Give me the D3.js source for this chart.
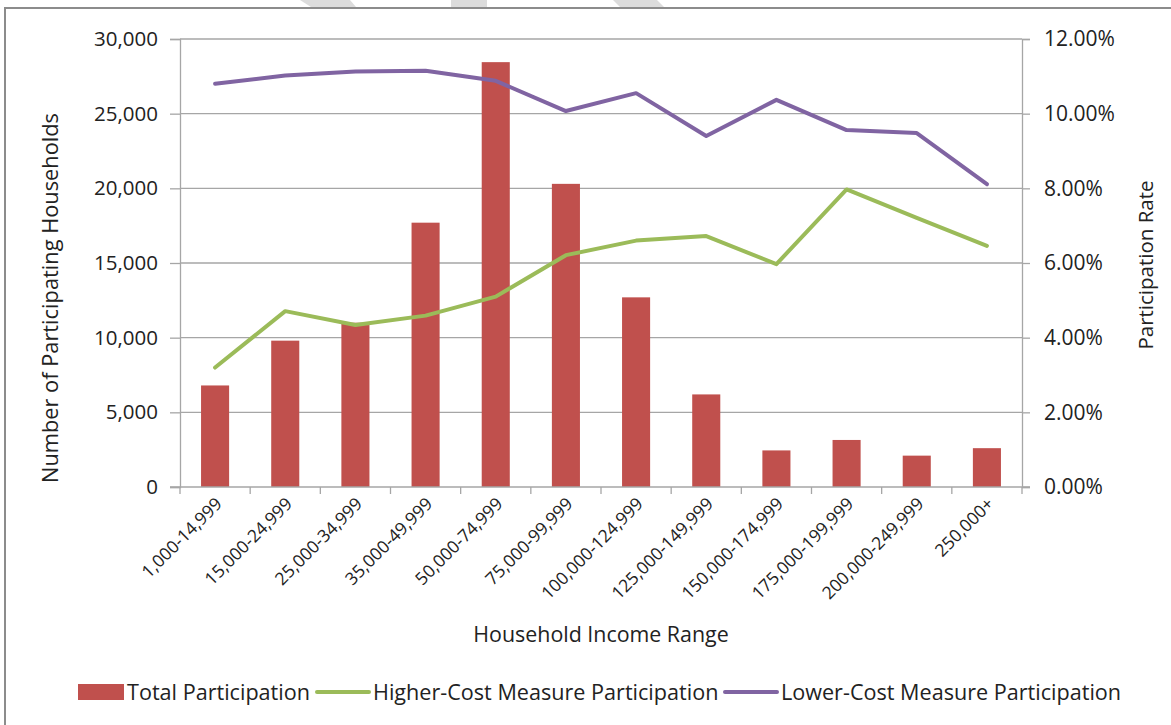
<!DOCTYPE html>
<html>
<head>
<meta charset="utf-8">
<script src="https://cdn.jsdelivr.net/npm/d3@7"></script>
<style>
  body { margin: 0; background: #fff; }
  text { font-family: "Open Sans", sans-serif; fill: #222; }
</style>
</head>
<body>
<script>
const categories = ["1,000-14,999", "15,000-24,999", "25,000-34,999", "35,000-49,999",
  "50,000-74,999", "75,000-99,999", "100,000-124,999", "125,000-149,999",
  "150,000-174,999", "175,000-199,999", "200,000-249,999", "250,000+"];
const totalParticipation = [6800, 9800, 11000, 17700, 28450, 20300, 12700, 6200, 2450, 3150, 2100, 2600];
const higherCost = [0.0320, 0.0471, 0.0434, 0.0459, 0.0510, 0.0621, 0.0660, 0.0672, 0.0597, 0.0797, 0.0721, 0.0646];
const lowerCost = [0.1080, 0.1102, 0.1113, 0.1115, 0.1088, 0.1007, 0.1055, 0.0940, 0.1037, 0.0956, 0.0948, 0.0811];
const leftTicks = [0, 5000, 10000, 15000, 20000, 25000, 30000];
const rightTicks = [0, 0.02, 0.04, 0.06, 0.08, 0.10, 0.12];

const width = 1171;
const height = 725;
const marginTop = 39;
const marginRight = 149;
const marginBottom = 238;
const marginLeft = 180;

const barColor = "#C0504D";
const greenColor = "#9BBB59";
const purpleColor = "#8064A2";
const gridColor = "#A6A6A6";

const svg = d3.select("body")
  .append("svg")
    .attr("width", width)
    .attr("height", height)
    .attr("viewBox", [0, 0, width, height]);

// chart frame (cut off at the right and bottom in the original)
svg.append("rect")
    .attr("x", 5).attr("y", 8)
    .attr("width", width + 20).attr("height", height + 20)
    .attr("fill", "none")
    .attr("stroke", "#8c8c8c")
    .attr("stroke-width", 2);

// faint grey stripes peeking above the frame
svg.append("g")
    .attr("fill", "#dcdcdc")
  .selectAll("path")
  .data([
    [[300, 0], [350, 0], [356, 7], [311, 7]],
    [[451, 0], [487, 0], [487, 7], [451, 7]],
    [[613, 0], [657, 0], [664, 7], [620, 7]]
  ])
  .join("path")
    .attr("d", d => "M" + d.join("L") + "Z");

const x = d3.scaleBand()
    .domain(categories)
    .range([marginLeft, width - marginRight])
    .paddingInner(0.6)
    .paddingOuter(0.3);

const xEdges = d3.scaleLinear()
    .domain([0, categories.length])
    .range([marginLeft, width - marginRight]);

const y = d3.scaleLinear()
    .domain([0, 30000])
    .range([height - marginBottom, marginTop]);

const y2 = d3.scaleLinear()
    .domain([0, 0.12])
    .range([height - marginBottom, marginTop]);

// gridlines
svg.append("g")
    .attr("stroke", gridColor)
    .attr("stroke-width", 1.3)
  .selectAll("line")
  .data(leftTicks.slice(1))
  .join("line")
    .attr("x1", marginLeft)
    .attr("x2", width - marginRight)
    .attr("y1", d => y(d))
    .attr("y2", d => y(d));

// bars
svg.append("g")
    .attr("fill", barColor)
  .selectAll("rect")
  .data(totalParticipation)
  .join("rect")
    .attr("x", (d, i) => x(categories[i]))
    .attr("y", d => y(d))
    .attr("width", x.bandwidth())
    .attr("height", d => y(0) - y(d));

// lines
const cx = i => x(categories[i]) + x.bandwidth() / 2;
const line = d3.line()
    .x((d, i) => cx(i))
    .y(d => y2(d));

svg.append("path")
    .datum(higherCost)
    .attr("fill", "none")
    .attr("stroke", greenColor)
    .attr("stroke-width", 4)
    .attr("stroke-linejoin", "round")
    .attr("stroke-linecap", "round")
    .attr("d", line);

svg.append("path")
    .datum(lowerCost)
    .attr("fill", "none")
    .attr("stroke", purpleColor)
    .attr("stroke-width", 4)
    .attr("stroke-linejoin", "round")
    .attr("stroke-linecap", "round")
    .attr("d", line);

// Left axis
svg.append("g")
    .attr("transform", `translate(${marginLeft},0)`)
    .call(d3.axisLeft(y).tickValues(leftTicks).tickSize(10).tickPadding(12)
      .tickFormat(d3.format(",")))
    .call(g => g.selectAll(".domain").attr("stroke", gridColor).attr("stroke-width", 1.3))
    .call(g => g.selectAll(".tick line").attr("stroke", gridColor).attr("stroke-width", 1.3))
    .call(g => g.selectAll(".tick text").attr("font-size", 20.5).attr("font-family", "Open Sans").attr("fill", "#222"));

// Right axis
svg.append("g")
    .attr("transform", `translate(${width - marginRight},0)`)
    .call(d3.axisRight(y2).tickValues(rightTicks).tickSize(8).tickPadding(14)
      .tickFormat(d3.format(".2%")))
    .call(g => g.selectAll(".domain").attr("stroke", gridColor).attr("stroke-width", 1.3))
    .call(g => g.selectAll(".tick line").attr("stroke", gridColor).attr("stroke-width", 1.3))
    .call(g => g.selectAll(".tick text").attr("font-size", 21).attr("font-family", "Open Sans").attr("fill", "#222"));

// X axis
const xAxis = svg.append("g")
    .attr("transform", `translate(0,${height - marginBottom})`);

xAxis.append("line")
    .attr("x1", marginLeft - 10)
    .attr("x2", width - marginRight + 8)
    .attr("stroke", gridColor)
    .attr("stroke-width", 1.3);

xAxis.selectAll(".edge")
  .data(d3.range(categories.length + 1))
  .join("line")
    .attr("class", "edge")
    .attr("x1", d => xEdges(d))
    .attr("x2", d => xEdges(d))
    .attr("y1", 0)
    .attr("y2", 7)
    .attr("stroke", gridColor)
    .attr("stroke-width", 1.3);

xAxis.selectAll(".label")
  .data(categories)
  .join("text")
    .attr("class", "label")
    .attr("text-anchor", "end")
    .attr("font-size", 17.5)
    .attr("transform", (d, i) => `translate(${cx(i) + 8},${18}) rotate(-45)`)
    .text(d => d);

// X-axis Label
svg.append("text")
    .attr("text-anchor", "middle")
    .attr("x", (width - marginLeft - marginRight) / 2 + marginLeft)
    .attr("y", 642)
    .attr("font-size", 21.4)
    .text("Household Income Range");

// Y-axis Labels
svg.append("text")
    .attr("text-anchor", "middle")
    .attr("transform", "translate(58,298) rotate(-90)")
    .attr("font-size", 21.8)
    .text("Number of Participating Households");

svg.append("text")
    .attr("text-anchor", "middle")
    .attr("transform", "translate(1153,265) rotate(-90)")
    .attr("font-size", 20.5)
    .text("Participation Rate");

// Legend
const legendItems = [
  {label: "Total Participation", color: barColor, type: "bar", x: 78},
  {label: "Higher-Cost Measure Participation", color: greenColor, type: "line", x: 315},
  {label: "Lower-Cost Measure Participation", color: purpleColor, type: "line", x: 723}
];
const legend = svg.append("g")
    .attr("transform", "translate(0,692)");

const li = legend.selectAll("g")
  .data(legendItems)
  .join("g")
    .attr("transform", d => `translate(${d.x},0)`);

li.filter(d => d.type === "bar").append("rect")
    .attr("y", -8).attr("width", 46).attr("height", 16)
    .attr("fill", d => d.color);

li.filter(d => d.type === "line").append("line")
    .attr("x1", 2).attr("x2", 54)
    .attr("stroke", d => d.color)
    .attr("stroke-width", 4)
    .attr("stroke-linecap", "round");

li.append("text")
    .attr("x", d => d.type === "bar" ? 49 : 58)
    .attr("dy", "0.35em")
    .attr("font-size", 21.6)
    .text(d => d.label);
</script>
</body>
</html>
